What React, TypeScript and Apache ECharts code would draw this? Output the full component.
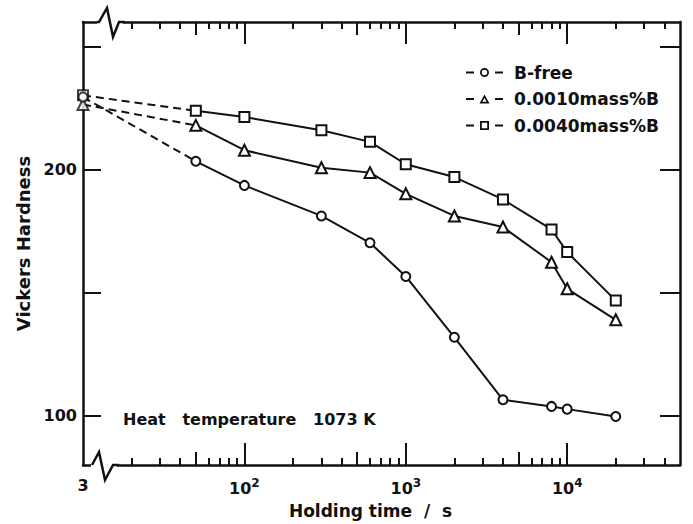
import React, { useEffect, useRef } from 'react';
import * as echarts from 'echarts';

// Holding time (s); the first point (3 s) sits left of the axis break
const times = [3, 50, 100, 300, 600, 1000, 2000, 4000, 8000, 10000, 20000];
const bFree = [229.5, 203.4, 193.6, 181.2, 170.3, 156.6, 131.9, 106.5, 103.8, 102.7, 99.7];
const b0010 = [226.5, 218.0, 207.9, 200.8, 198.8, 190.2, 181.2, 176.7, 162.4, 151.6, 139.0];
const b0040 = [230.2, 223.9, 221.4, 216.0, 211.3, 202.2, 197.0, 187.9, 175.7, 166.5, 146.8];
const seriesNames = ['B-free', '0.0010mass%B', '0.0040mass%B'];
const seriesSymbols = ['emptyCircle', 'emptyTriangle', 'emptyRect'];
const seriesSymbolSizes = [9, 11, 10];

// axis break: 3 s is drawn at the position where the log axis starts (10)
const BREAK_FROM = 3;
const BREAK_TO = 10;
const X_MIN = 10;
const X_MAX = 50000;
const xLabelValues = [10, 100, 1000, 10000];
const xMajorTicks = [100, 1000, 10000];
const xMidTicks = [50, 500, 5000];
const xMinorTicks = [20, 30, 40, 60, 70, 80, 90, 200, 300, 400, 600, 700, 800, 900, 2000, 3000, 4000, 6000, 7000, 8000, 9000, 20000, 30000, 40000];
const yTicks = [100, 150, 200, 250];
const yLabels = [100, 200];
const Y_MIN = 80;
const Y_MAX = 260;

const FONT = 'DejaVu Sans';
const INK = '#111';

// legend icons: short dash, open marker, short dash (37 x 9 box)
const DASHES = 'M0,3.6 L8,3.6 L8,5.4 L0,5.4 Z M29,3.6 L37,3.6 L37,5.4 L29,5.4 Z ';
const legendIcons = [
  'path://' + DASHES + 'M14,4.5 A4.5,4.5 0 1,0 23,4.5 A4.5,4.5 0 1,0 14,4.5 Z M15.8,4.5 A2.7,2.7 0 1,1 21.2,4.5 A2.7,2.7 0 1,1 15.8,4.5 Z',
  'path://' + DASHES + 'M18.5,0 L23.5,9 L13.5,9 Z M18.5,3.4 L16.5,7.3 L20.5,7.3 Z',
  'path://' + DASHES + 'M14,0 L23,0 L23,9 L14,9 Z M15.8,1.8 L15.8,7.2 L21.2,7.2 L21.2,1.8 Z',
];

const mapTime = (t: number) => (t <= BREAK_FROM ? BREAK_TO : t);

export default function App() {
  const ref = useRef<HTMLDivElement>(null);
  useEffect(() => {
    if (!ref.current) return;
    document.body.style.margin = '0';
    const chart = echarts.init(ref.current, undefined, { renderer: 'svg' });
    const seriesData = [bFree, b0010, b0040];

    const G = { left: 83, right: 13, top: 22, bottom: 59 };
    const W = 693, H = 524;
    const gx0 = G.left, gy0 = G.top, gy1 = H - G.bottom;

    const xBase = (pos: 'bottom' | 'top', ticks: number[], len: number, main: boolean) => ({
      type: 'log',
      logBase: 10,
      min: X_MIN,
      max: X_MAX,
      position: pos,
      gridIndex: 0,
      axisLine: { show: main, lineStyle: { color: INK, width: 2.5 } },
      axisTick: { show: true, inside: true, length: len, customValues: ticks, lineStyle: { color: INK, width: 2 } },
      axisLabel: main && pos === 'bottom'
        ? {
            show: true,
            customValues: xLabelValues,
            margin: 12,
            formatter: (v: number) => (v === BREAK_TO ? `{b|${BREAK_FROM}}` : `{b|10}{s|${Math.round(Math.log10(v))}}`),
            rich: {
              b: { fontFamily: FONT, fontWeight: 'bold', fontSize: 16, color: INK },
              s: { fontFamily: FONT, fontWeight: 'bold', fontSize: 12, color: INK, padding: [0, 0, 10, 0] },
            },
          }
        : { show: false },
      splitLine: { show: false },
      minorTick: { show: false },
      ...(main && pos === 'bottom'
        ? {
            name: 'Holding time  /  s',
            nameLocation: 'middle',
            nameGap: 37,
            nameTextStyle: { fontFamily: FONT, fontWeight: 'bold', fontSize: 17, color: INK, padding: [0, 22, 0, 0] },
          }
        : {}),
    });

    const xAxes = [
      xBase('bottom', xMajorTicks, 22, true),
      xBase('bottom', xMidTicks, 13, false),
      xBase('bottom', xMinorTicks, 7, false),
      xBase('top', xMajorTicks, 22, true),
      xBase('top', xMidTicks, 13, false),
      xBase('top', xMinorTicks, 7, false),
    ];

    const yAxes = [
      {
        type: 'value',
        min: Y_MIN,
        max: Y_MAX,
        position: 'left',
        name: 'Vickers Hardness',
        nameLocation: 'middle',
        nameGap: 50,
        nameTextStyle: { fontFamily: FONT, fontWeight: 'bold', fontSize: 18, color: INK },
        axisLine: { show: true, lineStyle: { color: INK, width: 2.5 } },
        axisTick: { show: true, inside: true, length: 18, customValues: yTicks, lineStyle: { color: INK, width: 2 } },
        axisLabel: { show: true, customValues: yLabels, margin: 6, fontFamily: FONT, fontWeight: 'bold', fontSize: 16, color: INK },
        splitLine: { show: false },
      },
      {
        type: 'value',
        min: Y_MIN,
        max: Y_MAX,
        position: 'right',
        axisLine: { show: true, lineStyle: { color: INK, width: 2.5 } },
        axisTick: { show: true, inside: true, length: 20, customValues: yTicks, lineStyle: { color: INK, width: 2 } },
        axisLabel: { show: false },
        splitLine: { show: false },
      },
    ];

    const series: any[] = [];
    seriesData.forEach((vals, i) => {
      // dashed part across the axis break
      series.push({
        type: 'line',
        xAxisIndex: 0,
        yAxisIndex: 0,
        data: [[mapTime(times[0]), vals[0]], [mapTime(times[1]), vals[1]]],
        symbol: 'none',
        lineStyle: { color: INK, width: 2, type: [8, 5] },
        silent: true,
        clip: false,
        z: 2,
      });
      series.push({
        type: 'line',
        name: seriesNames[i],
        xAxisIndex: 0,
        yAxisIndex: 0,
        data: times.map((t, k) => [mapTime(t), vals[k]]).slice(1),
        symbol: seriesSymbols[i],
        symbolSize: seriesSymbolSizes[i],
        itemStyle: { color: INK, borderWidth: 2 },
        lineStyle: { color: INK, width: 2 },
        clip: false,
        z: 3,
      });
      // marker at the break point
      series.push({
        type: 'scatter',
        xAxisIndex: 0,
        yAxisIndex: 0,
        data: [[mapTime(times[0]), vals[0]]],
        symbol: seriesSymbols[i],
        symbolSize: seriesSymbolSizes[i],
        itemStyle: { color: INK, borderWidth: 2 },
        clip: false,
        z: 4 + (i === 0 ? 1 : 0),
        silent: true,
      });
    });

    const zig = (y: number, pts: number[][]) => pts.map(([x, dy]) => [x, y + dy]);

    chart.setOption({
      animation: false,
      backgroundColor: '#fff',
      grid: { left: G.left, right: G.right, top: G.top, bottom: G.bottom, containLabel: false },
      xAxis: xAxes,
      yAxis: yAxes,
      legend: {
        data: seriesNames.map((n, i) => ({ name: n, icon: legendIcons[i] })),
        orient: 'vertical',
        left: 461,
        top: 59,
        itemGap: 9.5,
        itemWidth: 37,
        itemHeight: 9,
        textStyle: { fontFamily: FONT, fontWeight: 'bold', fontSize: 17, color: INK, padding: [0, 0, 0, 6] },
        selectedMode: false,
      },
      series,
      graphic: [
        // break marks on bottom and top axes
        { type: 'rect', shape: { x: gx0 + 8, y: gy1 - 3, width: 26, height: 6 }, style: { fill: '#fff' }, z: 100 },
        { type: 'rect', shape: { x: gx0 + 14, y: gy0 - 3, width: 26, height: 6 }, style: { fill: '#fff' }, z: 100 },
        {
          type: 'polyline',
          shape: { points: zig(gy1, [[gx0 + 9, 0], [gx0 + 16, -13], [gx0 + 22, 15], [gx0 + 30, 0], [gx0 + 36, 0]]) },
          style: { stroke: INK, lineWidth: 2.5, fill: 'none' },
          z: 101,
        },
        {
          type: 'polyline',
          shape: { points: zig(gy0, [[gx0 + 14, 0], [gx0 + 16, 0], [gx0 + 24, -14], [gx0 + 30, 15], [gx0 + 36, 0], [gx0 + 42, 0]]) },
          style: { stroke: INK, lineWidth: 2.5, fill: 'none' },
          z: 101,
        },
        {
          type: 'text',
          left: 123,
          top: 411,
          style: { text: 'Heat   temperature   1073 K', fontFamily: FONT, fontWeight: 'bold', fontSize: 16, fill: INK },
          z: 50,
        },
      ],
    });
    return () => chart.dispose();
  }, []);
  return <div ref={ref} style={{ width: 693, height: 524 }} />;
}
